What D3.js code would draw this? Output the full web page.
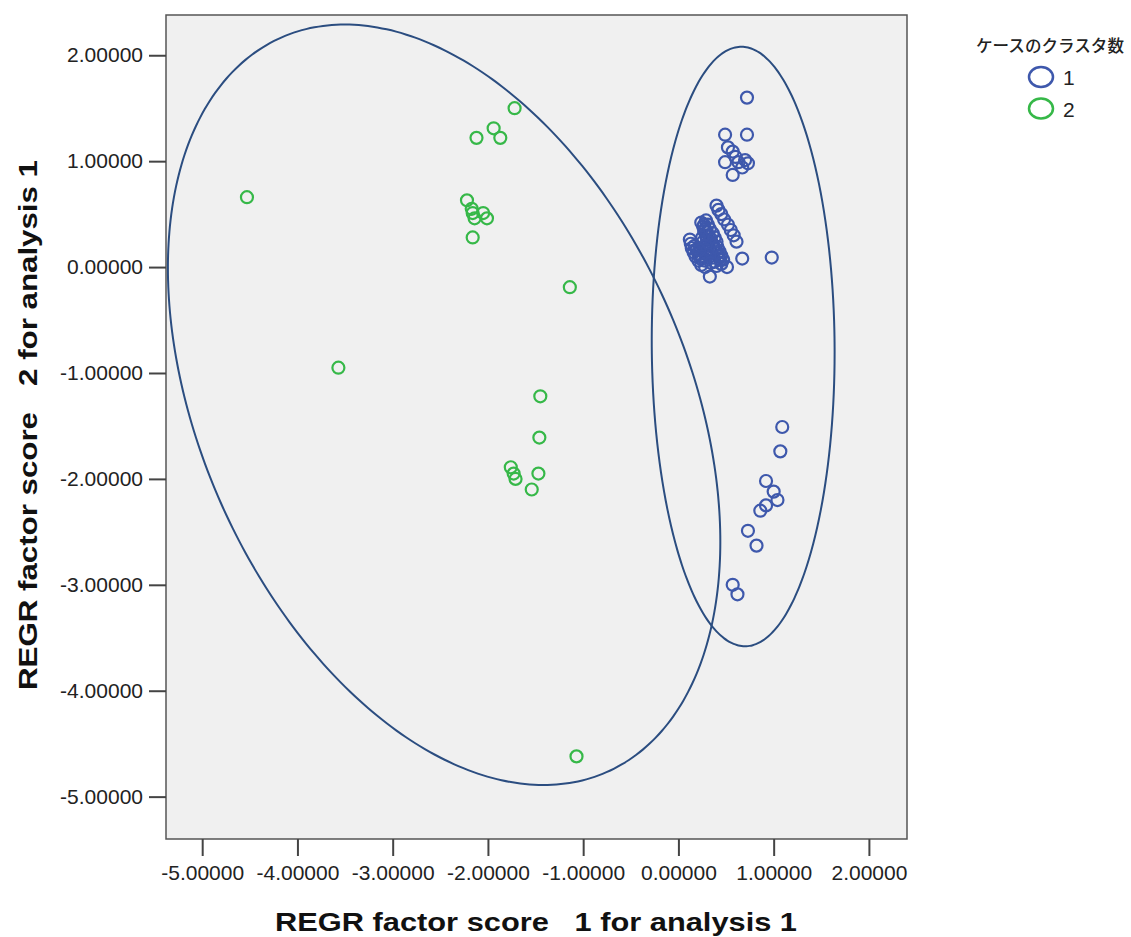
<!DOCTYPE html>
<html>
<head>
<meta charset="utf-8">
<script src="https://cdn.jsdelivr.net/npm/d3@7"></script>
<style>
    html, body { margin: 0; padding: 0; background: #fff; }
    svg { display: block; font-family: Arial, "Liberation Sans", sans-serif; }
</style>
</head>
<body>
<div id="chart"></div>
<script>
// cluster 1 (blue) : [factor score 1, factor score 2]
const cluster1 = [
    [0.72, 1.60], [0.49, 1.25], [0.72, 1.25], [0.52, 1.13], [0.57, 1.09], [0.49, 0.99],
    [0.57, 0.87], [0.70, 1.01], [0.73, 0.98], [0.67, 0.94], [0.63, 0.99], [0.60, 1.04],
    [0.12, 0.26], [0.13, 0.22], [0.14, 0.18], [0.16, 0.14], [0.18, 0.10], [0.21, 0.06], [0.24, 0.02],
    [0.17, 0.20], [0.19, 0.16], [0.21, 0.12], [0.23, 0.08],
    [0.24, 0.42], [0.26, 0.38], [0.27, 0.34], [0.29, 0.30], [0.30, 0.26], [0.31, 0.21],
    [0.33, 0.17], [0.35, 0.13], [0.36, 0.09], [0.38, 0.05], [0.40, 0.01],
    [0.27, 0.40], [0.28, 0.36], [0.30, 0.33], [0.32, 0.29], [0.34, 0.26], [0.35, 0.23],
    [0.37, 0.20], [0.39, 0.17], [0.41, 0.13], [0.42, 0.10], [0.44, 0.07],
    [0.26, 0.24], [0.25, 0.28], [0.28, 0.20], [0.30, 0.16], [0.32, 0.12], [0.25, 0.10],
    [0.28, 0.06], [0.34, 0.04], [0.22, 0.16],
    [0.29, 0.44], [0.31, 0.40], [0.33, 0.36], [0.36, 0.32], [0.38, 0.28], [0.40, 0.24],
    [0.41, 0.19], [0.43, 0.15], [0.45, 0.11], [0.47, 0.07],
    [0.40, 0.58], [0.42, 0.54], [0.45, 0.50], [0.48, 0.45], [0.52, 0.40], [0.55, 0.35],
    [0.58, 0.30], [0.61, 0.24], [0.67, 0.08],
    [0.33, -0.09], [0.51, 0.00], [0.45, 0.03], [0.28, 0.00],
    [0.98, 0.09],
    [1.09, -1.51], [1.07, -1.74], [0.92, -2.02], [1.00, -2.12], [1.04, -2.20], [0.92, -2.25],
    [0.86, -2.30], [0.73, -2.49], [0.82, -2.63], [0.57, -3.00], [0.62, -3.09],
];

// cluster 2 (green)
const cluster2 = [
    [-4.53, 0.66], [-3.57, -0.95], [-1.72, 1.50], [-2.12, 1.22], [-1.94, 1.31], [-1.87, 1.22],
    [-1.14, -0.19], [-1.07, -4.62],
    [-2.22, 0.63], [-2.17, 0.55], [-2.16, 0.51], [-2.14, 0.46], [-2.05, 0.51], [-2.01, 0.46], [-2.16, 0.28],
    [-1.45, -1.22], [-1.46, -1.61], [-1.76, -1.89], [-1.73, -1.95], [-1.71, -2.00], [-1.47, -1.95], [-1.54, -2.10],
];

const xTicks = [-5, -4, -3, -2, -1, 0, 1, 2];
const yTicks = [-5, -4, -3, -2, -1, 0, 1, 2];

const legendTitle = 'ケースのクラスタ数';
const legendLabels = ['1', '2'];
const clusterColors = ['#3e58ac', '#36b848'];

// hand-drawn ellipses, in data units: centre, half extents, correlation
const ellipses = [
    { cx: -2.46, cy: -1.30, sx: 2.90, sy: 3.59, r: -0.36 },
    { cx: 0.68, cy: -0.75, sx: 0.96, sy: 2.83, r: -0.02 },
];

const width = 1131;
const height = 937;
const plot = { left: 166, right: 907, top: 15, bottom: 839 };

const svg = d3.select('#chart').append('svg')
    .attr('width', width)
    .attr('height', height);

const x = d3.scaleLinear()
    .domain([-5.38, 2.40])
    .range([plot.left, plot.right]);
const y = d3.scaleLinear()
    .domain([-5.40, 2.38])
    .range([plot.bottom, plot.top]);

// plot background
svg.append('rect')
    .attr('x', plot.left)
    .attr('y', plot.top)
    .attr('width', plot.right - plot.left)
    .attr('height', plot.bottom - plot.top)
    .attr('fill', '#f0f0f0')
    .attr('stroke', '#555')
    .attr('stroke-width', 1.5);

// plain hyphen for negatives, like the original
const fmt = d3.formatLocale({
    decimal: '.', thousands: ',', grouping: [3], currency: ['', ''], minus: '-',
}).format('.5f');

const xAxisG = svg.append('g')
    .attr('transform', `translate(0,${plot.bottom})`)
    .call(d3.axisBottom(x).tickValues(xTicks).tickFormat(fmt).tickSize(17).tickSizeOuter(0).tickPadding(9));
const yAxisG = svg.append('g')
    .attr('transform', `translate(${plot.left},0)`)
    .call(d3.axisLeft(y).tickValues(yTicks).tickFormat(fmt).tickSize(17).tickSizeOuter(0).tickPadding(6));

[xAxisG, yAxisG].forEach(g => {
    g.select('.domain').remove();
    g.selectAll('.tick line').attr('stroke', '#444').attr('stroke-width', 2);
    g.selectAll('.tick text')
        .attr('fill', '#222')
        .style('font-size', '21px')
        .style('font-family', 'Arial, "Liberation Sans", sans-serif');
});

// axis titles (the original is stretched horizontally)
svg.append('text')
    .attr('x', 536)
    .attr('y', 931)
    .attr('text-anchor', 'middle')
    .attr('fill', '#111')
    .attr('textLength', 522)
    .attr('lengthAdjust', 'spacingAndGlyphs')
    .style('font-size', '25px')
    .style('font-weight', 'bold')
    .style('white-space', 'pre')
    .text('REGR factor score   1 for analysis 1');

svg.append('text')
    .attr('transform', 'translate(37,425) rotate(-90)')
    .attr('text-anchor', 'middle')
    .attr('fill', '#111')
    .attr('textLength', 530)
    .attr('lengthAdjust', 'spacingAndGlyphs')
    .style('font-size', '25px')
    .style('font-weight', 'bold')
    .style('white-space', 'pre')
    .text('REGR factor score   2 for analysis 1');

// ellipses
const ellipsePath = e => {
    const k = Math.sqrt(1 - e.r * e.r);
    const pts = d3.range(0, 360, 2).map(deg => {
        const t = deg * Math.PI / 180;
        return [
            x(e.cx + e.sx * Math.cos(t)),
            y(e.cy + e.sy * (e.r * Math.cos(t) + k * Math.sin(t))),
        ];
    });
    return d3.line().curve(d3.curveCardinalClosed)(pts);
};

svg.append('g').selectAll('path')
    .data(ellipses)
    .join('path')
    .attr('d', ellipsePath)
    .attr('fill', 'none')
    .attr('stroke', '#2b4d80')
    .attr('stroke-width', 2);

// points
const pointsG = svg.append('g');
[cluster1, cluster2].forEach((pts, i) => {
    pointsG.append('g').selectAll('circle')
        .data(pts)
        .join('circle')
        .attr('cx', d => x(d[0]))
        .attr('cy', d => y(d[1]))
        .attr('r', 6)
        .attr('fill', 'none')
        .attr('stroke', clusterColors[i])
        .attr('stroke-width', 2.2);
});

// legend
const legend = svg.append('g');
legend.append('text')
    .attr('x', 1050)
    .attr('y', 52)
    .attr('text-anchor', 'middle')
    .attr('fill', '#222')
    .attr('textLength', 148)
    .attr('lengthAdjust', 'spacingAndGlyphs')
    .style('font-family', '"Noto Sans CJK JP", sans-serif')
    .style('font-size', '16.5px')
    .style('font-weight', 500)
    .text(legendTitle);

const items = legend.selectAll('g.item')
    .data(legendLabels)
    .join('g')
    .attr('class', 'item')
    .attr('transform', (d, i) => `translate(1041,${77 + i * 31.5})`);
items.append('ellipse')
    .attr('rx', 12)
    .attr('ry', 10)
    .attr('fill', 'none')
    .attr('stroke', (d, i) => clusterColors[i])
    .attr('stroke-width', 2.5);
items.append('text')
    .attr('x', 22)
    .attr('y', 8)
    .attr('fill', '#222')
    .style('font-size', '21px')
    .text(d => d);
</script>
</body>
</html>
